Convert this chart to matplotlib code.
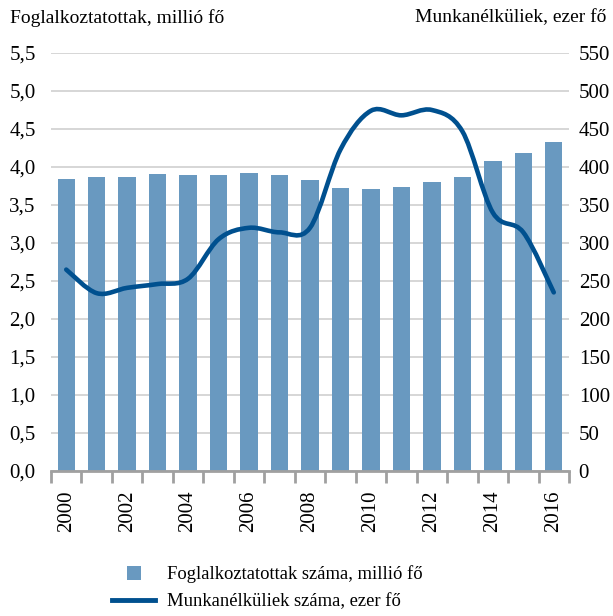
import matplotlib
matplotlib.use("Agg")
import matplotlib.pyplot as plt
from matplotlib.path import Path
from matplotlib.patches import PathPatch
from matplotlib.lines import Line2D
import numpy as np

years = list(range(2000, 2017))
employed = [3.84, 3.865, 3.865, 3.91, 3.89, 3.895, 3.92, 3.89, 3.835, 3.73,
            3.71, 3.74, 3.80, 3.87, 4.08, 4.19, 4.33]
unemployed = [265, 234, 241, 246, 253, 305, 320, 314, 320, 423,
              474, 468, 475, 447, 340, 314, 235]
left_ticks = [0.0, 0.5, 1.0, 1.5, 2.0, 2.5, 3.0, 3.5, 4.0, 4.5, 5.0, 5.5]
right_ticks = [0, 50, 100, 150, 200, 250, 300, 350, 400, 450, 500, 550]
left_title = "Foglalkoztatottak, millió fő"
right_title = "Munkanélküliek, ezer fő"
bar_label = "Foglalkoztatottak száma, millió fő"
line_label = "Munkanélküliek száma, ezer fő"

BAR = "#6999c0"
LINE = "#00508f"
FONT = "Liberation Serif"
FS = 15
FS_T = 14
FS_L = 13.4

plt.rcParams['font.family'] = [FONT, 'DejaVu Serif']

fig = plt.figure(figsize=(6.13, 6.16), dpi=100)
ax = fig.add_axes([51/613, 145/616, 518/613, 418/616])
x = np.arange(len(years))
ax.bar(x, employed, width=0.57, color=BAR, zorder=2)
ax.set_xlim(-0.5, len(years) - 0.5)
ax.set_ylim(0, 5.5)
ax.set_yticks(left_ticks)
ax.set_yticklabels([f"{v:.1f}".replace('.', ',') for v in left_ticks], fontsize=FS)
ax.yaxis.grid(True, color="#cfcfcf", linewidth=1.2, zorder=0)
ax.set_axisbelow(True)
for s in ['left', 'right', 'top']:
    ax.spines[s].set_visible(False)
ax.spines['bottom'].set_color("#a0a0a0")
ax.spines['bottom'].set_linewidth(2)
ax.spines['bottom'].set_zorder(3)
ax.tick_params(axis='y', length=0, pad=11)
ax.set_xticks(x[::2])
ax.set_xticklabels([str(y) for y in years[::2]], rotation=90, fontsize=FS)
ax.tick_params(axis='x', which='major', length=0, pad=14)
ax.set_xticks(np.arange(-0.5, len(years), 1.0), minor=True)
ax.tick_params(axis='x', which='minor', length=8.5, width=2, color="#a0a0a0", direction='out')

ax2 = ax.twinx()
ax2.set_ylim(0, 550)
ax2.set_yticks(right_ticks)
ax2.set_yticklabels([str(v) for v in right_ticks], fontsize=FS)
ax2.tick_params(axis='y', length=0, pad=7)
for s in ['left', 'right', 'top', 'bottom']:
    ax2.spines[s].set_visible(False)

# smoothed line (Catmull-Rom -> cubic Bezier), drawn by matplotlib's Path
px = x.astype(float)
py = np.array(unemployed, dtype=float)
verts = [(px[0], py[0])]
codes = [Path.MOVETO]
n = len(px)
for i in range(n - 1):
    p0 = (px[i-1], py[i-1]) if i > 0 else (px[i], py[i])
    p1 = (px[i], py[i])
    p2 = (px[i+1], py[i+1])
    p3 = (px[i+2], py[i+2]) if i + 2 < n else (px[i+1], py[i+1])
    c1 = (p1[0] + (p2[0] - p0[0]) / 6, p1[1] + (p2[1] - p0[1]) / 6)
    c2 = (p2[0] - (p3[0] - p1[0]) / 6, p2[1] - (p3[1] - p1[1]) / 6)
    verts += [c1, c2, p2]
    codes += [Path.CURVE4] * 3
patch = PathPatch(Path(verts, codes), facecolor='none', edgecolor=LINE,
                  linewidth=3.3, capstyle='round', joinstyle='round', zorder=4)
ax2.add_patch(patch)

fig.text(10/613, 1 - 18/616, left_title, fontsize=FS_T, ha='left', va='center')
fig.text(606/613, 1 - 18/616, right_title, fontsize=FS_T, ha='right', va='center')

handles = [Line2D([0], [0], color=BAR, linestyle='none', marker='s', markersize=10.5,
                  markeredgewidth=0),
           Line2D([0], [0], color=LINE, linewidth=3.5)]
fig.legend(handles, [bar_label, line_label], loc='center left',
           bbox_to_anchor=(95/613, 1 - 588/616), frameon=False, fontsize=FS_L,
           handlelength=2.35, handletextpad=0.6, labelspacing=0.55)

fig.savefig("out.png", dpi=100)
